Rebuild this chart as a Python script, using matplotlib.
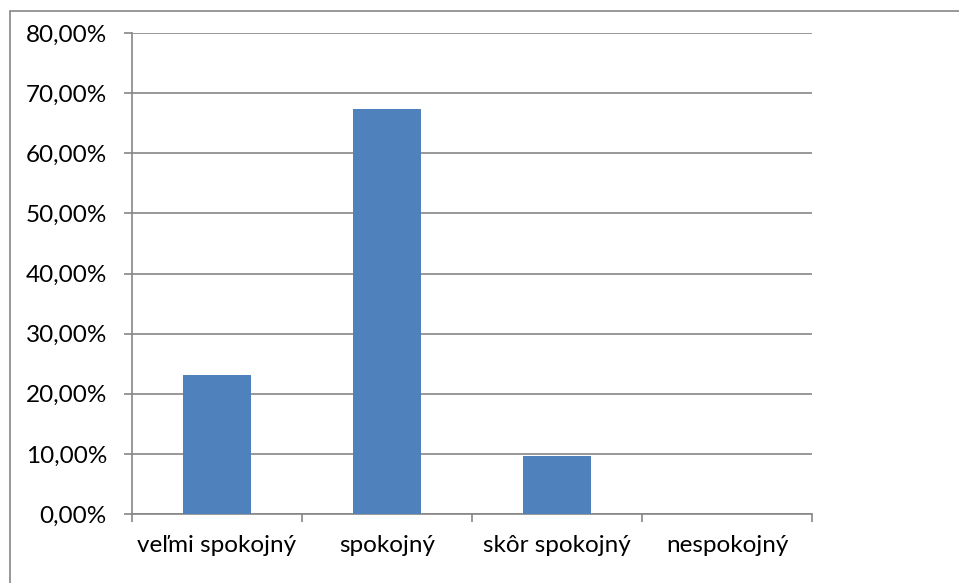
import matplotlib
matplotlib.use("Agg")
import matplotlib.pyplot as plt
from matplotlib.patches import Rectangle
from matplotlib.ticker import FuncFormatter, FixedLocator

categories = ["veľmi spokojný", "spokojný", "skôr spokojný", "nespokojný"]
values = [23.08, 67.31, 9.62, 0.0]
yticks = [0, 10, 20, 30, 40, 50, 60, 70, 80]

W, H = 959, 583
fig = plt.figure(figsize=(W / 100, H / 100), dpi=100)
plt.rcParams['font.family'] = ['Lato', 'DejaVu Sans']

# outer frame
fig.patches.append(Rectangle((10 / W, -0.1), 1.2, 1 - 11 / H + 0.1, transform=fig.transFigure,
                             fill=False, edgecolor='#868686', linewidth=1.2))

ax = fig.add_axes([132 / W, 1 - 514 / H, (812 - 132) / W, (514 - 33) / H])
grid_c = '#868686'
x = list(range(len(categories)))
ax.bar(x, values, width=0.4, color='#4F81BD', zorder=3)
ax.set_xlim(-0.5, len(categories) - 0.5)
ax.set_ylim(0, 80)
ax.set_yticks(yticks)
ax.yaxis.set_major_formatter(FuncFormatter(lambda v, p: f"{v:.2f}%".replace('.', ',')))
ax.yaxis.grid(True, color=grid_c, linewidth=1.2, zorder=0)
ax.set_xticks(x)
ax.set_xticklabels(categories)
ax.xaxis.set_minor_locator(FixedLocator([i - 0.5 for i in range(len(categories) + 1)]))
ax.tick_params(axis='x', which='major', length=0, pad=15, labelsize=17.5)
ax.tick_params(axis='x', which='minor', length=6, color=grid_c, width=1.2)
ax.tick_params(axis='y', length=6, color=grid_c, width=1.2, labelsize=17.5, pad=12)
for s in ['top', 'right']:
    ax.spines[s].set_visible(False)
for s in ['left', 'bottom']:
    ax.spines[s].set_color(grid_c)
    ax.spines[s].set_linewidth(1.2)

fig.savefig("out.png", dpi=100)
